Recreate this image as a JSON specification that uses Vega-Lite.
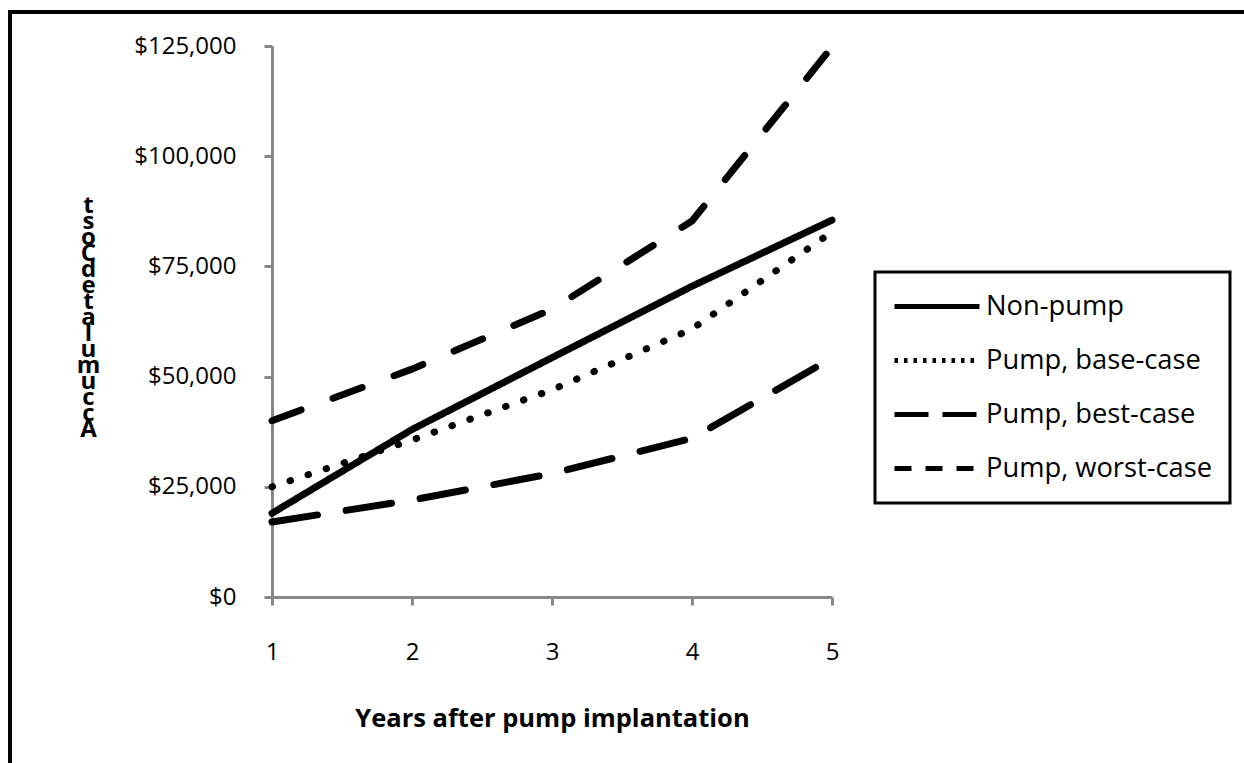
{
  "$schema": "https://vega.github.io/schema/vega-lite/v6.json",
  "autosize": {"type": "none"},
  "padding": {"left": 10, "top": 12, "right": 0, "bottom": 0},
  "width": 1236,
  "height": 753,
  "background": "white",
  "config": {
    "view": {"stroke": "black", "strokeWidth": 4, "fill": null},
    "font": "Open Sans",
    "legend": {"strokeWidth": 3}
  },
  "data": {
    "values": [
      {"year": 1, "series": "Non-pump", "cost": 19000},
      {"year": 2, "series": "Non-pump", "cost": 38000},
      {"year": 3, "series": "Non-pump", "cost": 54300},
      {"year": 4, "series": "Non-pump", "cost": 70500},
      {"year": 5, "series": "Non-pump", "cost": 85500},
      {"year": 1, "series": "Pump, base-case", "cost": 25000},
      {"year": 2, "series": "Pump, base-case", "cost": 35600},
      {"year": 3, "series": "Pump, base-case", "cost": 47000},
      {"year": 4, "series": "Pump, base-case", "cost": 60800},
      {"year": 5, "series": "Pump, base-case", "cost": 82800},
      {"year": 1, "series": "Pump, best-case", "cost": 17000},
      {"year": 2, "series": "Pump, best-case", "cost": 22000},
      {"year": 3, "series": "Pump, best-case", "cost": 28000},
      {"year": 4, "series": "Pump, best-case", "cost": 36000},
      {"year": 5, "series": "Pump, best-case", "cost": 54200},
      {"year": 1, "series": "Pump, worst-case", "cost": 40000},
      {"year": 2, "series": "Pump, worst-case", "cost": 51700},
      {"year": 3, "series": "Pump, worst-case", "cost": 65300},
      {"year": 4, "series": "Pump, worst-case", "cost": 85300},
      {"year": 5, "series": "Pump, worst-case", "cost": 124800}
    ]
  },
  "encoding": {
    "x": {
      "field": "year",
      "type": "quantitative",
      "scale": {"domain": [1, 5], "range": [262, 822], "nice": false, "zero": false},
      "axis": {
        "values": [1, 2, 3, 4, 5],
        "format": "d",
        "offset": -168,
        "grid": false,
        "domainColor": "#878787",
        "domainWidth": 3,
        "tickColor": "#878787",
        "tickWidth": 3,
        "tickSize": 8,
        "labelFont": "Open Sans",
        "labelFontSize": 24,
        "labelColor": "black",
        "labelPadding": 35,
        "labelFlush": false,
        "title": "Years after pump implantation",
        "titleFont": "Open Sans",
        "titleFontSize": 25.5,
        "titleFontWeight": "bold",
        "titleColor": "black",
        "titlePadding": 42
      }
    },
    "y": {
      "field": "cost",
      "type": "quantitative",
      "scale": {"domain": [0, 125000], "range": [585, 34], "nice": false},
      "axis": {
        "values": [0, 25000, 50000, 75000, 100000, 125000],
        "format": "$,.0f",
        "offset": -262,
        "grid": false,
        "domainColor": "#878787",
        "domainWidth": 3,
        "tickColor": "#878787",
        "tickWidth": 3,
        "tickSize": 8,
        "labelFont": "Open Sans",
        "labelFontSize": 24,
        "labelColor": "black",
        "labelPadding": 28,
        "labelFlush": false,
        "title": ["t", "s", "o", "C", " ", "d", "e", "t", "a", "l", "u", "m", "u", "c", "c", "A"],
        "titleFont": "Open Sans",
        "titleFontSize": 24,
        "titleFontWeight": "bold",
        "titleColor": "black",
        "titleAngle": 0,
        "titleAlign": "center",
        "titleBaseline": "top",
        "titleLineHeight": 16,
        "titleX": -184,
        "titleY": 181
      }
    }
  },
  "layer": [
    {
      "mark": {"type": "line", "color": "black", "strokeWidth": 7, "strokeCap": "round", "strokeJoin": "round"},
      "encoding": {
        "strokeDash": {
          "field": "series",
          "type": "nominal",
          "scale": {
            "domain": ["Non-pump", "Pump, base-case", "Pump, best-case", "Pump, worst-case"],
            "range": [[1, 0], [0.5, 18.5], [46, 29], [31, 34]]
          },
          "legend": null
        }
      }
    },
    {
      "transform": [{"filter": "datum.year > 100"}],
      "mark": {"type": "line", "color": "black", "strokeWidth": 5},
      "encoding": {
        "strokeDash": {
          "field": "series",
          "type": "nominal",
          "scale": {
            "domain": ["Non-pump", "Pump, base-case", "Pump, best-case", "Pump, worst-case"],
            "range": [[1, 0], [3.5, 6], [34, 14], [17, 14]]
          },
          "legend": {
            "title": null,
            "orient": "none",
            "legendX": 865,
            "legendY": 260,
            "symbolType": "stroke",
            "symbolSize": 7225,
            "symbolStrokeWidth": 5,
            "symbolStrokeColor": "black",
            "labelFont": "Open Sans",
            "labelFontSize": 27.3,
            "labelColor": "black",
            "labelOffset": 4,
            "labelLimit": 400,
            "clipHeight": 35,
            "rowPadding": 19,
            "padding": 17,
            "strokeColor": "black",
            "fillColor": "white"
          }
        }
      }
    }
  ],
  "resolve": {"scale": {"strokeDash": "independent"}, "legend": {"strokeDash": "independent"}}
}
